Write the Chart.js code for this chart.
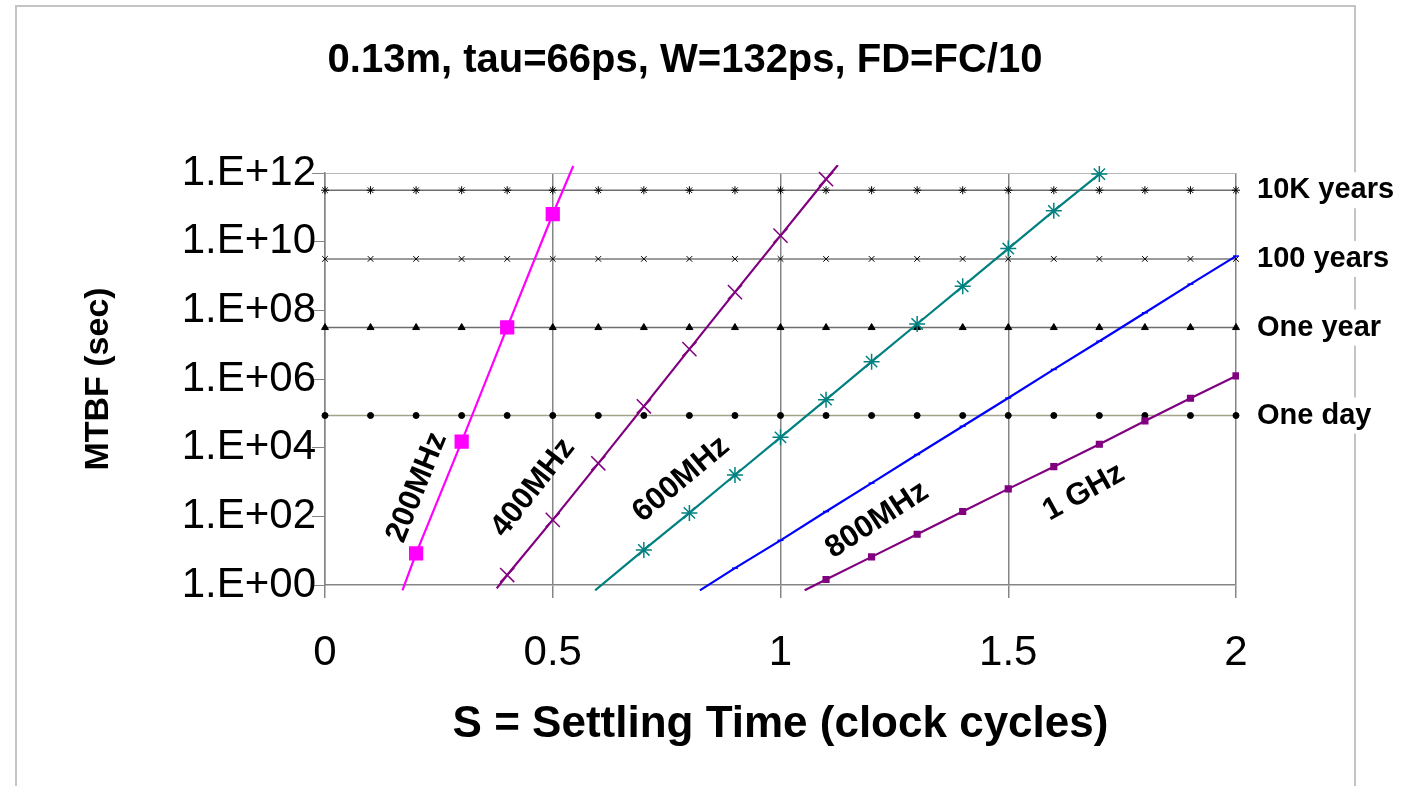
<!DOCTYPE html>
<html lang="en">
<head>
  <meta charset="UTF-8">
  <title>MTBF vs Settling Time</title>
  <style>
    html, body { margin: 0; padding: 0; background: #fff; }
    canvas { display: block; }
  </style>
</head>
<body>
  <canvas id="mtbfChart" width="1416" height="786"></canvas>

  <script src="https://cdn.jsdelivr.net/npm/chart.js@4.4.1/dist/chart.umd.min.js"></script>
  <script>
    // Settling time S (clock cycles) and MTBF (sec).
    // First/last entries of some series are where the line leaves the plot.
    const s200    = [0.17, 0.2, 0.3, 0.4, 0.5, 0.545];
    const mtbf200 = [0.7, 8.3, 1.5e4, 3.2e7, 6.3e10, 1.6e12];

    const s400    = [0.377, 0.4, 0.5, 0.6, 0.7, 0.8, 0.9, 1.0, 1.1, 1.126];
    const mtbf400 = [0.8, 1.95, 79, 3.5e3, 1.6e5, 7.4e6, 3.4e8, 1.5e10, 6.6e11, 1.7e12];

    const s600    = [0.593, 0.7, 0.8, 0.9, 1.0, 1.1, 1.2, 1.3, 1.4, 1.5, 1.6, 1.7];
    const mtbf600 = [0.7, 10.5, 126, 1.6e3, 2e4, 2.5e5, 3.2e6, 4e7, 5e8, 6.3e9, 7.9e10, 9.3e11];

    const s800    = [0.823, 0.9, 1.0, 1.1, 1.2, 1.3, 1.4, 1.5, 1.6, 1.7, 1.8, 1.9, 2.0];
    const mtbf800 = [0.7, 3.1, 20, 138, 930, 6.3e3, 4.2e4, 2.8e5, 1.9e6, 1.26e7, 8.5e7, 5.8e8, 3.8e9];

    const s1g     = [1.053, 1.1, 1.2, 1.3, 1.4, 1.5, 1.6, 1.7, 1.8, 1.9, 2.0];
    const mtbf1g  = [0.7, 1.45, 6.6, 30, 138, 630, 2.8e3, 1.26e4, 6e4, 2.75e5, 1.23e6];

    // reference lines (constant MTBF), marked every 0.1 cycle
    const refS      = [0, 0.1, 0.2, 0.3, 0.4, 0.5, 0.6, 0.7, 0.8, 0.9, 1.0,
                       1.1, 1.2, 1.3, 1.4, 1.5, 1.6, 1.7, 1.8, 1.9, 2.0];
    const refNames  = ['10K years', '100 years', 'One year', 'One day'];
    const refValues = [3.15e11, 3.15e9, 3.15e7, 8.64e4];

    const xTickLabels = ['0', '0.5', '1', '1.5', '2'];
    const yTickValues = [1, 1e2, 1e4, 1e6, 1e8, 1e10, 1e12];
    const yTickLabels = ['1.E+00', '1.E+02', '1.E+04', '1.E+06', '1.E+08', '1.E+10', '1.E+12'];

    const chartTitle = '0.13m, tau=66ps, W=132ps, FD=FC/10';
    const FONT = '"Liberation Sans", Arial, sans-serif';

    const pts = (xs, ys) => xs.map((x, i) => ({ x: x, y: ys[i] }));

    // no marker on the points where a line exits the plot
    const markerRadius = (c) => {
      const d = c.dataset;
      const last = d.data.length - 1;
      if ((d.edgeStart && c.dataIndex === 0) || (d.edgeEnd && c.dataIndex === last)) return 0;
      return d.markerSize;
    };

    function curve(label, xs, ys, color, style, size, edgeStart, edgeEnd) {
      return {
        label: label,
        data: pts(xs, ys),
        borderColor: color,
        backgroundColor: color,
        borderWidth: 2.2,
        pointStyle: style,
        markerSize: size,
        edgeStart: edgeStart,
        edgeEnd: edgeEnd,
        pointRadius: markerRadius,
        pointBorderColor: color,
        pointBackgroundColor: color,
        pointBorderWidth: 1.5,
        clip: { left: 0, top: 8, right: 3, bottom: 6 }
      };
    }

    const refStyles = ['star', 'crossRot', 'triangle', 'circle'];
    const refLineColors = ['#6e6e6e', '#7a7a7a', '#6e6e6e', '#a3a38a'];

    const refSets = refValues.map((v, i) => ({
      label: refNames[i],
      data: refS.map(x => ({ x: x, y: v })),
      borderColor: refLineColors[i],
      borderWidth: 1.5,
      pointStyle: refStyles[i],
      pointRadius: i === 3 ? 3 : 4,
      pointBorderColor: '#000',
      pointBackgroundColor: '#000',
      pointBorderWidth: 1,
      clip: 6
    }));

    // text on the curves, anchored in data units
    const curveLabels = [
      { text: '200MHz', s: 0.202, v: 7e2,  angle: 68 },
      { text: '400MHz', s: 0.457, v: 6.8e2, angle: 52 },
      { text: '600MHz', s: 0.782, v: 1.2e3, angle: 40 },
      { text: '800MHz', s: 1.212, v: 78,   angle: 33 },
      { text: '1 GHz',  s: 1.666, v: 5e2,  angle: 29 }
    ];

    const decorations = {
      id: 'decorations',
      beforeDraw(chart) {
        const ctx = chart.ctx;
        ctx.save();
        ctx.fillStyle = '#fff';
        ctx.fillRect(0, 0, chart.width, chart.height);
        // outer frame
        ctx.strokeStyle = '#c4c4c4';
        ctx.lineWidth = 2;
        ctx.beginPath();
        ctx.moveTo(16, chart.height);
        ctx.lineTo(16, 6);
        ctx.lineTo(1355, 6);
        ctx.lineTo(1355, chart.height);
        ctx.stroke();
        // title
        ctx.fillStyle = '#000';
        ctx.font = 'bold 40px ' + FONT;
        ctx.textAlign = 'center';
        ctx.textBaseline = 'middle';
        ctx.fillText(chartTitle, 685, 61);
        ctx.restore();
      },
      afterDatasetsDraw(chart) {
        const ctx = chart.ctx;
        const xs = chart.scales.x;
        const ys = chart.scales.y;
        ctx.save();
        ctx.fillStyle = '#000';
        ctx.textAlign = 'center';
        ctx.textBaseline = 'middle';
        ctx.font = 'bold 31px ' + FONT;
        curveLabels.forEach(l => {
          ctx.save();
          ctx.translate(xs.getPixelForValue(l.s), ys.getPixelForValue(l.v));
          ctx.rotate(-l.angle * Math.PI / 180);
          ctx.fillText(l.text, 0, 0);
          ctx.restore();
        });
        // reference line names on the right
        ctx.font = 'bold 29px ' + FONT;
        ctx.textAlign = 'left';
        refNames.forEach((name, i) => {
          const y = ys.getPixelForValue(refValues[i]);
          const w = ctx.measureText(name).width;
          ctx.fillStyle = '#fff';
          ctx.fillRect(1254, y - 18, w + 6, 36);
          ctx.fillStyle = '#000';
          ctx.fillText(name, 1257, y);
        });
        ctx.restore();
      }
    };

    new Chart(document.getElementById('mtbfChart'), {
      type: 'line',
      data: {
        datasets: [
          curve('200MHz', s200, mtbf200, '#ff00ff', 'rect', 9, true, true),
          curve('400MHz', s400, mtbf400, '#800080', 'crossRot', 10, true, true),
          curve('600MHz', s600, mtbf600, '#008080', 'star', 8, true, false),
          curve('800MHz', s800, mtbf800, '#0000ff', 'line', 3, true, false),
          curve('1 GHz',  s1g,  mtbf1g,  '#800080', 'rect', 4, true, false)
        ].concat(refSets)
      },
      options: {
        responsive: false,
        animation: false,
        layout: { padding: { left: 0, right: 180, top: 173, bottom: 0 } },
        plugins: {
          legend: { display: false },
          tooltip: { enabled: false },
          title: { display: false }
        },
        scales: {
          x: {
            type: 'linear',
            min: 0,
            max: 2,
            afterFit: s => { s.height = 201; },
            ticks: {
              stepSize: 0.5,
              padding: 30,
              color: '#000',
              font: { family: FONT, size: 42 },
              callback: (v, i) => xTickLabels[i]
            },
            grid: { color: '#858585', tickColor: '#858585', tickLength: 13, lineWidth: 1.5 },
            border: { color: '#858585', width: 1.5 },
            title: {
              display: true,
              text: 'S = Settling Time (clock cycles)',
              color: '#000',
              font: { family: FONT, size: 44, weight: 'bold' },
              padding: { bottom: 35 }
            }
          },
          y: {
            type: 'logarithmic',
            min: 1,
            max: 1e12,
            afterFit: s => { s.width = 325; },
            afterBuildTicks: s => { s.ticks = yTickValues.map(v => ({ value: v })); },
            ticks: {
              padding: -4,
              color: '#000',
              font: { family: FONT, size: 42 },
              callback: (v, i) => yTickLabels[i]
            },
            grid: {
              color: c => (c.tick && c.tick.value === 1e12) ? '#b8b8b8' : 'rgba(0,0,0,0)',
              tickColor: '#858585',
              tickLength: 13
            },
            border: { color: '#858585', width: 1.5 },
            title: {
              display: true,
              text: 'MTBF (sec)',
              color: '#000',
              font: { family: FONT, size: 34, weight: 'bold' },
              padding: { top: 78 }
            }
          }
        }
      },
      plugins: [decorations]
    });
  </script>
</body>
</html>
